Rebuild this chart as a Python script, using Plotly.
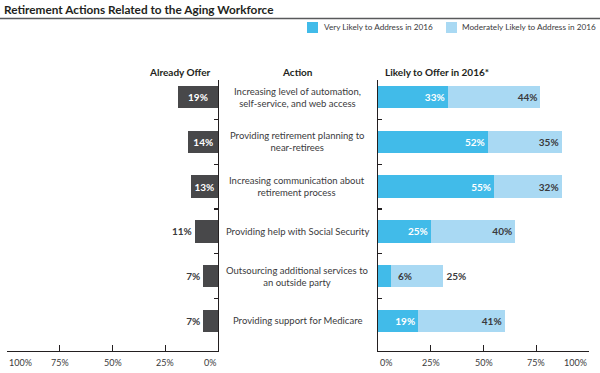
import plotly.graph_objects as go

# ---------------- data ----------------
actions = [
    "Increasing level of automation,<br>self-service, and web access",
    "Providing retirement planning to<br>near-retirees",
    "Increasing communication about<br>retirement process",
    "Providing help with Social Security",
    "Outsourcing additional services to<br>an outside party",
    "Providing support for Medicare",
]
already_offer = [19, 14, 13, 11, 7, 7]
very_likely = [33, 52, 55, 25, 6, 19]
moderately_likely = [44, 35, 32, 40, 25, 41]
series_names = ["Very Likely to Address in 2016", "Moderately Likely to Address in 2016"]
left_ticks = [100, 75, 50, 25, 0]
right_ticks = [0, 25, 50, 75, 100]
left_tick_labels = ["100%", "75%", "50%", "25%", "0%"]
right_tick_labels = ["0%", "25%", "50%", "75%", "100%"]
title = "Retirement Actions Related to the Aging Workforce"
headers = ["Already Offer", "Action", "Likely to Offer in 2016*"]

# ---------------- style ----------------
FONT = "Lato"
DARK = "#48484a"
BLUE = "#41bbe9"
LIGHT = "#a9d9f3"
TXT = "#3a3a3c"
AXIS = "#231f20"
W, H = 600, 373

def px_x(p):
    return p / W

def px_y(p):
    return 1 - p / H

n = len(actions)
idx = list(range(n))
y_dom = [px_y(351), px_y(80)]
y_range = [n - 1 + 0.67, -0.38]

fig = go.Figure()

fig.add_trace(go.Bar(
    x=already_offer, y=idx, orientation="h", xaxis="x", yaxis="y",
    marker=dict(color=DARK, line=dict(width=0)), width=0.5,
    text=[f"{v}%" for v in already_offer],
    textposition=["inside" if v >= 12 else "outside" for v in already_offer],
    insidetextanchor="middle", textangle=0, constraintext="none",
    insidetextfont=dict(color="white", family=FONT, size=10, weight="bold"),
    outsidetextfont=dict(color=TXT, family=FONT, size=10, weight="bold"),
    cliponaxis=False, showlegend=False, hoverinfo="skip",
))

fig.add_trace(go.Bar(
    x=very_likely, y=idx, orientation="h", xaxis="x2", yaxis="y2",
    name=series_names[0],
    marker=dict(color=BLUE, line=dict(width=0)), width=0.5,
    text=[f"{v}%" for v in very_likely],
    textposition=["inside" if v >= 10 else "none" for v in very_likely],
    insidetextanchor="end", textangle=0, constraintext="none",
    insidetextfont=dict(color="white", family=FONT, size=10, weight="bold"),
    cliponaxis=False, showlegend=False, hoverinfo="skip",
))

fig.add_trace(go.Bar(
    x=moderately_likely, y=idx, orientation="h", xaxis="x2", yaxis="y2",
    name=series_names[1],
    marker=dict(color=LIGHT, line=dict(width=0)), width=0.5,
    text=[f"{v}%" for v in moderately_likely],
    textposition=["inside" if vl >= 10 else "outside" for vl in very_likely],
    insidetextanchor="end", textangle=0, constraintext="none",
    insidetextfont=dict(color=TXT, family=FONT, size=10, weight="bold"),
    outsidetextfont=dict(color=TXT, family=FONT, size=10, weight="bold"),
    cliponaxis=False, showlegend=False, hoverinfo="skip",
))

annotations = []
shapes = []

# small blue values: label just outside the blue segment
for i, v in enumerate(very_likely):
    if v < 10:
        annotations.append(dict(
            x=v, y=i, xref="x2", yref="y2", text=f"{v}%", showarrow=False,
            xanchor="left", xshift=5, yanchor="middle",
            font=dict(color=TXT, family=FONT, size=10, weight="bold"),
        ))

# action labels in the middle column
for i, a in enumerate(actions):
    annotations.append(dict(
        x=px_x(297), y=i, xref="paper", yref="y", text=a, showarrow=False,
        xanchor="center", yanchor="middle", align="center",
        font=dict(color=TXT, family=FONT, size=9.5),
    ))

# column headers
hdr_font = dict(color="#231f20", family=FONT, size=10, weight="bold")
annotations.append(dict(x=px_x(213), y=px_y(72), xref="paper", yref="paper",
                        text=headers[0], showarrow=False, xanchor="right",
                        yanchor="middle", font=hdr_font))
annotations.append(dict(x=px_x(297), y=px_y(72), xref="paper", yref="paper",
                        text=headers[1], showarrow=False, xanchor="center",
                        yanchor="middle", font=hdr_font))
annotations.append(dict(x=px_x(383), y=px_y(72), xref="paper", yref="paper",
                        text=headers[2], showarrow=False, xanchor="left",
                        yanchor="middle", font=hdr_font))

# title and rule
annotations.append(dict(x=px_x(2), y=px_y(9), xref="paper", yref="paper",
                        text=title, showarrow=False, xanchor="left",
                        yanchor="middle",
                        font=dict(color="#231f20", family=FONT, size=11.8, weight="bold")))
shapes.append(dict(type="line", xref="paper", yref="paper", x0=0, x1=1,
                   y0=px_y(18.5), y1=px_y(18.5), line=dict(color="#58595b", width=1.3)))

# custom legend
leg_font = dict(color=TXT, family=FONT, size=8.2)
for (sx, tx), name, col in zip([(307, 322), (446, 460)], series_names, [BLUE, LIGHT]):
    shapes.append(dict(type="rect", xref="paper", yref="paper",
                       x0=px_x(sx), x1=px_x(sx + 11), y0=px_y(33), y1=px_y(22),
                       fillcolor=col, line=dict(width=0)))
    annotations.append(dict(x=px_x(tx), y=px_y(27.5), xref="paper", yref="paper",
                            text=name, showarrow=False, xanchor="left",
                            yanchor="middle", font=leg_font))

# x tick labels
tick_font = dict(color=TXT, family=FONT, size=9)
for ticks, labels, xr in [(left_ticks, left_tick_labels, "x"),
                          (right_ticks, right_tick_labels, "x2")]:
    for k, (t, lab) in enumerate(zip(ticks, labels)):
        if k == 0:
            anchor = "left"
        elif k == len(ticks) - 1:
            anchor = "right"
        else:
            anchor = "center"
        annotations.append(dict(x=t, y=px_y(362), xref=xr, yref="paper",
                                text=lab, showarrow=False, xanchor=anchor,
                                yanchor="middle", font=tick_font))

axis_common = dict(showgrid=False, zeroline=False, showline=True,
                   linecolor=AXIS, linewidth=1.3, tickcolor=AXIS,
                   tickwidth=1.3, fixedrange=True)

fig.update_layout(
    width=W, height=H,
    margin=dict(l=0, r=0, t=0, b=0),
    paper_bgcolor="white", plot_bgcolor="white",
    barmode="stack",
    font=dict(family=FONT, color=TXT),
    xaxis=dict(domain=[px_x(7), px_x(218)], range=[100, 0], anchor="y",
               ticks="inside", ticklen=6, tickvals=left_ticks,
               showticklabels=False, **axis_common),
    yaxis=dict(domain=y_dom, range=y_range, anchor="x", side="right",
               ticks="inside", ticklen=4,
               tickvals=[i + 0.5 for i in range(n - 1)],
               showticklabels=False, **axis_common),
    xaxis2=dict(domain=[px_x(378), px_x(589)], range=[0, 100], anchor="y2",
                ticks="inside", ticklen=6, tickvals=right_ticks,
                showticklabels=False, **axis_common),
    yaxis2=dict(domain=y_dom, range=y_range, anchor="x2", side="left",
                ticks="inside", ticklen=4,
                tickvals=[i + 0.5 for i in range(n - 1)],
                showticklabels=False, **axis_common),
    annotations=annotations,
    shapes=shapes,
    showlegend=False,
)

fig.write_html(
    "out.html",
    config={"displayModeBar": False, "staticPlot": True},
    post_script="document.body.style.margin='0';document.body.style.overflow='hidden';",
)
